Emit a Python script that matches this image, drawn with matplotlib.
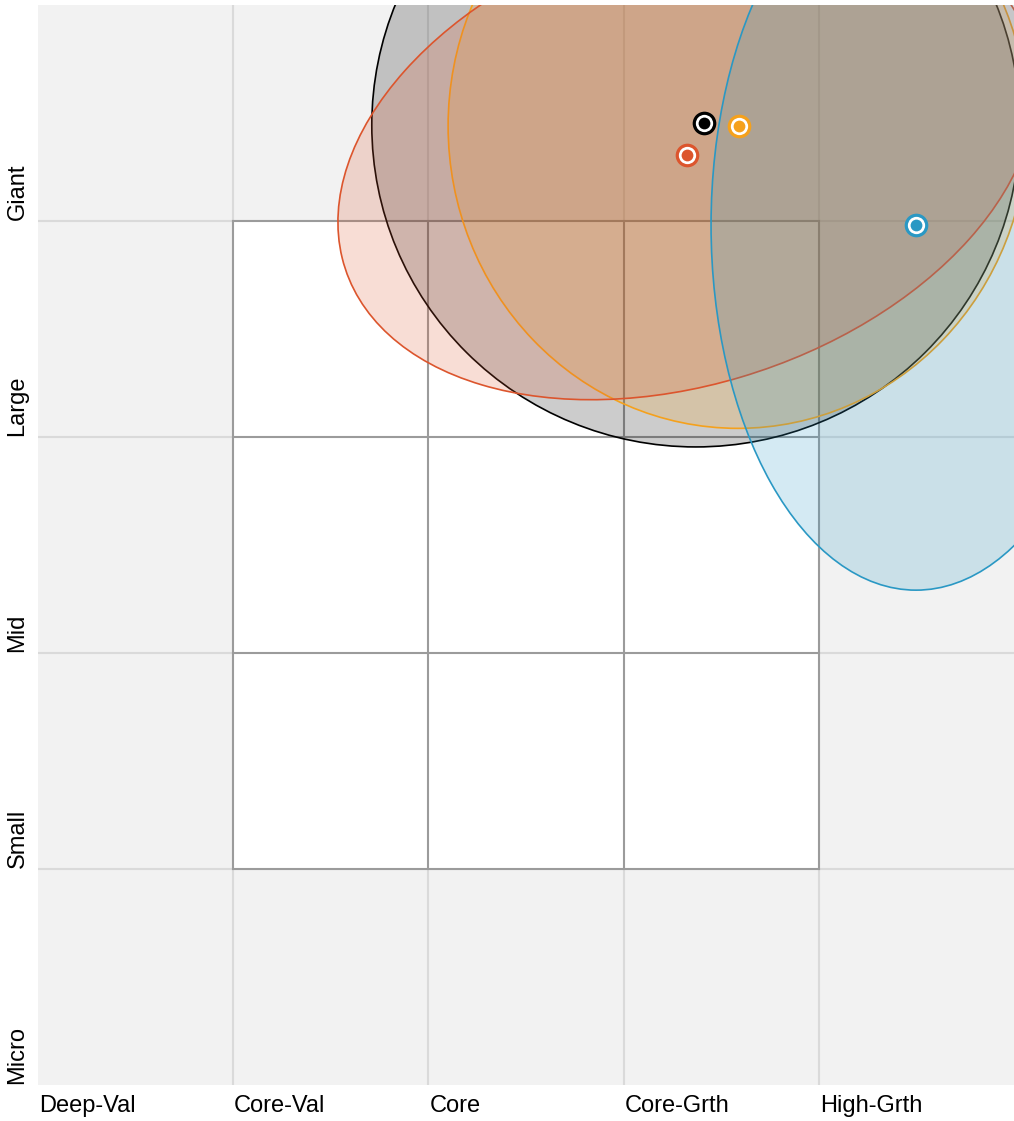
import matplotlib
matplotlib.use("Agg")
import matplotlib.pyplot as plt
from matplotlib.patches import Ellipse, Rectangle

plt.rcParams['font.family'] = ['Liberation Sans', 'DejaVu Sans']

# style columns (x) and size rows (y), each one unit wide
style_labels = ["Deep-Val", "Core-Val", "Core", "Core-Grth", "High-Grth"]
size_labels = ["Micro", "Small", "Mid", "Large", "Giant"]

# ownership zones: centre, full width/height (grid units), tilt in degrees
zone_colors = ["#000000", "#f5a11c", "#dc552d", "#2a98c4"]
zone_x = [3.37, 3.586, 3.325, 4.498]
zone_y = [4.444, 4.44, 4.306, 3.981]
zone_w = [3.32, 2.97, 3.66, 2.10]
zone_h = [2.98, 2.80, 2.13, 3.38]
zone_angle = [0, 0, 15.1, 0]

# centroids of each holding
point_x = [3.412, 3.591, 3.325, 4.498]
point_y = [4.454, 4.44, 4.306, 3.981]

fig = plt.figure(figsize=(10.14, 11.21), dpi=100)
ax = fig.add_axes([38 / 1014, 36 / 1121, 976 / 1014, 1080 / 1121])
ax.set_xlim(0, 5)
ax.set_ylim(0, 5)
ax.axis("off")

# background and light grid
ax.add_patch(Rectangle((0, 0), 5, 5, facecolor="#f2f2f2", edgecolor="none", zorder=0))
for k in range(1, 5):
    ax.axvline(k, color="#dadada", lw=1.5, zorder=1)
    ax.axhline(k, color="#dadada", lw=1.5, zorder=1)

# the central 3x3 style box
ax.add_patch(Rectangle((1, 1), 3, 3, facecolor="white", edgecolor="none", zorder=2))
for k in range(1, 5):
    ax.plot([k, k], [1, 4], color="#9b9b9b", lw=1.5, zorder=3)
    ax.plot([1, 4], [k, k], color="#9b9b9b", lw=1.5, zorder=3)

for i in range(len(zone_colors)):
    c = zone_colors[i]
    e = Ellipse((zone_x[i], zone_y[i]), zone_w[i], zone_h[i], angle=zone_angle[i],
                facecolor=c, alpha=0.2, edgecolor="none", zorder=4 + i)
    ax.add_patch(e)
    e2 = Ellipse((zone_x[i], zone_y[i]), zone_w[i], zone_h[i], angle=zone_angle[i],
                 facecolor="none", edgecolor=c, lw=1.2, zorder=4 + i)
    ax.add_patch(e2)

for i in range(len(zone_colors)):
    c = zone_colors[i]
    ax.scatter(point_x[i], point_y[i], s=290, color=c, lw=0, zorder=10)
    ax.scatter(point_x[i], point_y[i], s=155, color="white", lw=0, zorder=11)
    ax.scatter(point_x[i], point_y[i], s=72, color=c, lw=0, zorder=12)

for i, lab in enumerate(style_labels):
    ax.text(i + 0.005, -0.045, lab, ha="left", va="top", fontsize=17, clip_on=False)
for i, lab in enumerate(size_labels):
    ax.text(-0.105, i + 0.005, lab, ha="center", va="bottom", rotation=90,
            fontsize=17, clip_on=False)

fig.savefig("out.png", dpi=100)
